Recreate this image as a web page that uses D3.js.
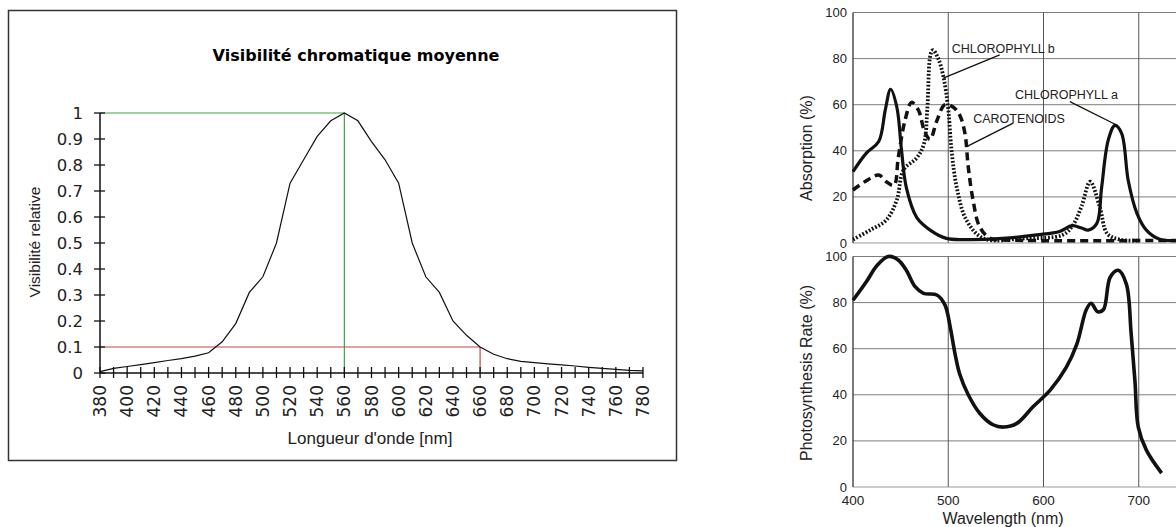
<!DOCTYPE html>
<html>
<head>
<meta charset="utf-8">
<script src="https://cdn.jsdelivr.net/npm/d3@7"></script>
<style>
  body { margin: 0; background: #fff; }
  svg { display: block; }
</style>
</head>
<body>
<div id="chart"></div>
<script>
// ---- left chart: visibilité chromatique ----
const visNm = [380, 390, 400, 410, 420, 430, 440, 450, 460, 470, 480, 490, 500, 510, 520, 530, 540, 550, 560,
  570, 580, 590, 600, 610, 620, 630, 640, 650, 660, 670, 680, 690, 700, 710, 720, 730, 740, 750, 760, 770, 780];
const visValues = [0.005, 0.018, 0.025, 0.032, 0.04, 0.048, 0.055, 0.065, 0.078, 0.12, 0.19, 0.31, 0.37, 0.5, 0.73,
  0.82, 0.91, 0.97, 1.0, 0.97, 0.89, 0.82, 0.73, 0.5, 0.37, 0.31, 0.2, 0.145, 0.1, 0.072, 0.055, 0.045, 0.04,
  0.035, 0.031, 0.027, 0.022, 0.018, 0.014, 0.01, 0.008];
const visYTicks = [0, 0.1, 0.2, 0.3, 0.4, 0.5, 0.6, 0.7, 0.8, 0.9, 1];
const visXLabels = [380, 400, 420, 440, 460, 480, 500, 520, 540, 560, 580, 600, 620, 640, 660, 680, 700, 720, 740, 760, 780];
const peakNm = 560, peakVal = 1;
const cutNm = 660, cutVal = 0.1;

// ---- right chart: absorption / photosynthesis ----
const chlA = [[400, 31], [414, 39], [427, 44], [434, 58], [439.5, 66.7], [446, 59], [451, 40], [456, 24], [467, 11],
  [481, 5.6], [498, 2], [520, 1.5], [557, 2], [593, 3.5], [617, 5], [630, 7.5], [640, 6.5], [647, 5.6], [656, 8.5],
  [661, 24], [668, 44.7], [675, 51], [682, 47.6], [689, 27], [698, 13], [708, 5.6], [722, 1.6], [740, 1], [780, 1]];
const chlB = [[400, 1.5], [418, 5.6], [435, 10], [446, 18.7], [453, 31.7], [467, 37], [474.5, 43], [478, 58],
  [481.5, 82], [484, 83.7], [489.5, 80], [495, 72], [500, 58], [503.5, 40], [509, 24], [519, 10], [537, 2],
  [580, 2], [620, 3.5], [631, 7.8], [640, 16], [649, 26.6], [659, 15.7], [667, 4], [680, 1.5], [700, 1]];
const carot = [[400, 23], [414, 27], [427, 29.5], [435, 26.6], [443, 25], [447.5, 37], [454.5, 53], [461.5, 61],
  [468.6, 57.7], [475.5, 48], [481, 45], [488, 53], [496.5, 60], [505, 59], [512, 55.5], [517.5, 47.6], [521, 33],
  [526, 18.7], [533, 7], [544, 2], [560, 1.3], [800, 1.3]];
const photo = [[400, 81], [414, 89], [425, 96], [437, 100], [447.5, 98.5], [456, 94], [465, 87], [474, 84],
  [488, 83.3], [496.5, 79], [502, 69.5], [507, 58], [512, 49], [521, 40], [533, 32], [547, 27], [558, 26],
  [572, 27.6], [589, 34.8], [607, 42], [624, 52], [635, 62], [645, 77], [650, 79.7], [657, 76], [663, 77],
  [670, 91], [678.5, 94], [687, 88], [692, 66.7], [696, 46], [699.5, 26], [708, 16], [724, 6]];
const pctTicks = [0, 20, 40, 60, 80, 100];
const waveTicks = [400, 500, 600, 700];
const gridNm = [500, 600, 700];
const notes = [
  { text: "CHLOROPHYLL b", at: [503.6, 82.4], from: [554, 81.6], to: [494.8, 71.5] },
  { text: "CHLOROPHYLL a", at: [570, 62.5], from: [627.7, 61.3], to: [676.7, 51.2] },
  { text: "CAROTENOIDS", at: [526.2, 52], from: [568.2, 52], to: [519.3, 41.8] }
];

const W = 1176, H = 527;
const svg = d3.select("#chart").append("svg")
  .attr("width", W).attr("height", H)
  .attr("viewBox", `0 0 ${W} ${H}`);

// ================= left panel =================
const left = svg.append("g");
left.append("rect")
  .attr("x", 8.5).attr("y", 10.5).attr("width", 668).attr("height", 450)
  .attr("fill", "#fff").attr("stroke", "#333").attr("stroke-width", 1.5);

const xL = d3.scaleLinear().domain([380, 780]).range([100, 643]);
const yL = d3.scaleLinear().domain([0, 1]).range([373, 113]);

left.append("text")
  .attr("x", 356).attr("y", 61)
  .attr("text-anchor", "middle")
  .style("font-family", "DejaVu Sans").style("font-weight", "bold").style("font-size", "16px")
  .text("Visibilité chromatique moyenne");

// reference lines (green at the peak, red at 0.1)
const green = "#3aa53a", red = "#c84646";
left.append("line").attr("x1", xL(380)).attr("x2", xL(peakNm)).attr("y1", yL(peakVal)).attr("y2", yL(peakVal))
  .attr("stroke", green).attr("stroke-width", 1.2);
left.append("line").attr("x1", xL(peakNm)).attr("x2", xL(peakNm)).attr("y1", yL(peakVal)).attr("y2", yL(0))
  .attr("stroke", green).attr("stroke-width", 1.2);
left.append("line").attr("x1", xL(380)).attr("x2", xL(cutNm)).attr("y1", yL(cutVal)).attr("y2", yL(cutVal))
  .attr("stroke", red).attr("stroke-width", 1.2);
left.append("line").attr("x1", xL(cutNm)).attr("x2", xL(cutNm)).attr("y1", yL(cutVal)).attr("y2", yL(0))
  .attr("stroke", red).attr("stroke-width", 1.2);

// axes
left.append("line").attr("x1", xL(380)).attr("x2", xL(780)).attr("y1", yL(0)).attr("y2", yL(0))
  .attr("stroke", "#111").attr("stroke-width", 1.5);
left.append("line").attr("x1", xL(380)).attr("x2", xL(380)).attr("y1", yL(0)).attr("y2", yL(1))
  .attr("stroke", "#111").attr("stroke-width", 1.5);

left.selectAll(".xtick").data(xL.ticks(40)).join("line")
  .attr("x1", d => xL(d)).attr("x2", d => xL(d))
  .attr("y1", yL(0) - 6).attr("y2", yL(0) + 5)
  .attr("stroke", "#111").attr("stroke-width", 1.3);
left.selectAll(".ytick").data(visYTicks).join("line")
  .attr("x1", xL(380) - 6).attr("x2", xL(380) + 5)
  .attr("y1", d => yL(d)).attr("y2", d => yL(d))
  .attr("stroke", "#111").attr("stroke-width", 1.3);

left.selectAll(".ylab").data(visYTicks).join("text")
  .attr("x", xL(380) - 17).attr("y", d => yL(d))
  .attr("text-anchor", "end").attr("dominant-baseline", "central")
  .style("font-family", "DejaVu Sans").style("font-size", "16.5px").attr("fill", "#222")
  .text(d => (d === 0 || d === 1) ? d : d.toFixed(1));

left.selectAll(".xlab").data(visXLabels).join("text")
  .attr("transform", d => `translate(${xL(d)},${yL(0) + 12}) rotate(-90)`)
  .attr("text-anchor", "end").attr("dominant-baseline", "central")
  .style("font-family", "DejaVu Sans").style("font-size", "17px").attr("fill", "#222")
  .text(d => d);

left.append("text")
  .attr("x", 370).attr("y", 444)
  .attr("text-anchor", "middle")
  .style("font-family", "Liberation Sans").style("font-size", "17px").attr("fill", "#222")
  .text("Longueur d'onde [nm]");
left.append("text")
  .attr("transform", "translate(40,242) rotate(-90)")
  .attr("text-anchor", "middle")
  .style("font-family", "Liberation Sans").style("font-size", "15.5px").attr("fill", "#222")
  .text("Visibilité relative");

const visLine = d3.line().x((d, i) => xL(visNm[i])).y(d => yL(d));
left.append("path").datum(visValues)
  .attr("d", visLine).attr("fill", "none").attr("stroke", "#111").attr("stroke-width", 1.2);

// ================= right panel =================
const right = svg.append("g");
const xR = d3.scaleLinear().domain([400, 800]).range([853, 1234]);
const yTop = d3.scaleLinear().domain([0, 100]).range([243, 12.5]);
const yBot = d3.scaleLinear().domain([0, 100]).range([487, 256.5]);
const font = "Liberation Sans";

function frame(y, title) {
  const g = right.append("g");
  g.selectAll(".hg").data(pctTicks.filter(d => d > 0)).join("line")
    .attr("x1", xR(400)).attr("x2", W).attr("y1", d => y(d)).attr("y2", d => y(d))
    .attr("stroke", "#7d7d7d").attr("stroke-width", 1);
  g.append("line").attr("x1", xR(400)).attr("x2", W).attr("y1", y(0)).attr("y2", y(0))
    .attr("stroke", "#9a9a9a").attr("stroke-width", 1);
  g.selectAll(".vg").data(gridNm).join("line")
    .attr("x1", d => xR(d)).attr("x2", d => xR(d)).attr("y1", y(100)).attr("y2", y(0))
    .attr("stroke", "#555").attr("stroke-width", 1);
  g.append("line").attr("x1", xR(400)).attr("x2", xR(400)).attr("y1", y(100)).attr("y2", y(0))
    .attr("stroke", "#333").attr("stroke-width", 1.3);
  g.selectAll(".yl").data(pctTicks).join("text")
    .attr("x", xR(400) - 6).attr("y", d => y(d))
    .attr("text-anchor", "end").attr("dominant-baseline", "central")
    .style("font-family", font).style("font-size", "13px").attr("fill", "#222")
    .text(d => d);
  g.append("text")
    .attr("transform", `translate(812,${title.cy}) rotate(-90)`)
    .attr("text-anchor", "middle")
    .style("font-family", font).style("font-size", "16px").attr("fill", "#222")
    .text(title.text);
  return g;
}
frame(yTop, { text: "Absorption (%)", cy: 148 });
frame(yBot, { text: "Photosynthesis Rate (%)", cy: 373 });

right.selectAll(".xl").data(waveTicks).join("text")
  .attr("x", d => xR(d)).attr("y", 500)
  .attr("text-anchor", "middle").attr("dominant-baseline", "central")
  .style("font-family", font).style("font-size", "13.5px").attr("fill", "#222")
  .text(d => d);
right.append("text")
  .attr("x", 1003).attr("y", 524)
  .attr("text-anchor", "middle")
  .style("font-family", font).style("font-size", "16px").attr("fill", "#222")
  .text("Wavelength (nm)");

const topLine = d3.line().x(d => xR(d[0])).y(d => yTop(d[1])).curve(d3.curveCatmullRom);
const botLine = d3.line().x(d => xR(d[0])).y(d => yBot(d[1])).curve(d3.curveCatmullRom);

right.append("path").datum(carot).attr("d", topLine)
  .attr("fill", "none").attr("stroke", "#111").attr("stroke-width", 3.5).attr("stroke-dasharray", "8,5");
right.append("path").datum(chlB).attr("d", topLine)
  .attr("fill", "none").attr("stroke", "#111").attr("stroke-width", 3.8).attr("stroke-dasharray", "1.8,1.8");
right.append("path").datum(chlA).attr("d", topLine)
  .attr("fill", "none").attr("stroke", "#111").attr("stroke-width", 3.2);
right.append("path").datum(photo).attr("d", botLine)
  .attr("fill", "none").attr("stroke", "#111").attr("stroke-width", 3.6);

right.selectAll(".lead").data(notes).join("line")
  .attr("x1", d => xR(d.from[0])).attr("y1", d => yTop(d.from[1]))
  .attr("x2", d => xR(d.to[0])).attr("y2", d => yTop(d.to[1]))
  .attr("stroke", "#111").attr("stroke-width", 1.3);
right.selectAll(".note").data(notes).join("text")
  .attr("x", d => xR(d.at[0])).attr("y", d => yTop(d.at[1]))
  .style("font-family", font).style("font-size", "12.5px").attr("fill", "#222")
  .text(d => d.text);
</script>
</body>
</html>
